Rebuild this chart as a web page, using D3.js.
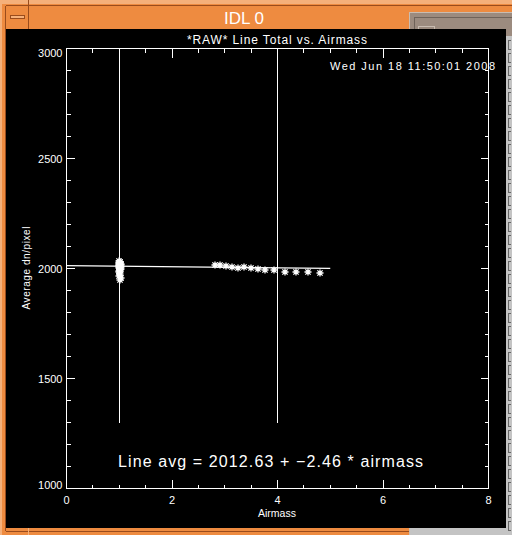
<!DOCTYPE html>
<html>
<head>
<meta charset="utf-8">
<script src="https://cdn.jsdelivr.net/npm/d3@7"></script>
<style>
    body { margin: 0; background: #000; }
    svg { display: block; }
    text { font-family: "Liberation Sans", Arial, sans-serif; fill: #fff; }
</style>
</head>
<body>
<svg id="viz" width="512" height="535"></svg>
<script>
// Data: cluster of exposures near airmass 1
const clusterAirmass = [0.99, 1.01, 1.02, 1.00, 0.99, 1.03, 1.02, 1.00, 0.99, 1.03, 1.01, 0.99, 1.04,
                        1.00, 1.02, 0.99, 1.01, 1.03, 1.02, 1.00, 0.99, 1.02, 1.01, 1.00, 1.03, 1.01];
const clusterCounts  = [2034, 2031, 2028, 2026, 2024, 2022, 2020, 2018, 2016, 2014, 2012, 2010, 2008,
                        2006, 2004, 2002, 2000, 1997, 1994, 1990, 1986, 1980, 1972, 1964, 1956, 1948];

// Data: airmass run
const rampAirmass = [2.81, 2.91, 3.03, 3.13, 3.25, 3.36, 3.50, 3.63, 3.77, 3.94, 4.14, 4.35, 4.57, 4.81];
const rampCounts  = [2014, 2014, 2011, 2006, 2003, 2009, 2003, 1999, 1994, 1991, 1982, 1982, 1982, 1979];

// Linear fit
const fitIntercept = 2012.63;
const fitSlope = -2.46;
const fitRange = [0, 5];

// Reference markers
const markerAirmass = [1, 4];
const markerSpan = [1300, 3000];

// Axis ticks
const xMajor = [0, 2, 4, 6, 8];
const yMajor = [1000, 1500, 2000, 2500, 3000];

const titleText = "*RAW* Line Total vs. Airmass";
const dateText = "Wed Jun 18 11:50:01 2008";
const fitText = `Line avg = ${fitIntercept.toFixed(2)} + \u2212${Math.abs(fitSlope).toFixed(2)} * airmass`;

const svg = d3.select("#viz");

// ---- window chrome ----
const orange = "#ee8b40", orangeLight = "#f5b07a", brown = "#9a4c1c";
svg.append("rect").attr("width", 512).attr("height", 535).attr("fill", orange);
svg.append("rect").attr("width", 512).attr("height", 4).attr("fill", orangeLight);
svg.append("rect").attr("x", 0).attr("y", 0).attr("width", 2).attr("height", 535).attr("fill", orangeLight);
const chrome = svg.append("g").attr("stroke", brown).attr("shape-rendering", "crispEdges").attr("fill", "none");
chrome.append("line").attr("x1", 5.5).attr("x2", 512).attr("y1", 5.5).attr("y2", 5.5);
chrome.append("line").attr("x1", 5.5).attr("x2", 5.5).attr("y1", 5.5).attr("y2", 531);
chrome.append("line").attr("x1", 28.5).attr("x2", 28.5).attr("y1", 0).attr("y2", 29);
chrome.append("line").attr("x1", 5.5).attr("x2", 410).attr("y1", 531.5).attr("y2", 531.5);
chrome.append("line").attr("x1", 28.5).attr("x2", 28.5).attr("y1", 528).attr("y2", 535).attr("stroke", orangeLight);
chrome.append("rect").attr("x", 10.5).attr("y", 15.5).attr("width", 14).attr("height", 3).attr("fill", orangeLight);

// gray window behind, right side
svg.append("rect").attr("x", 409).attr("y", 12).attr("width", 103).attr("height", 523).attr("fill", "#9c8b7f");
const gw = svg.append("g").attr("fill", "none").attr("shape-rendering", "crispEdges");
gw.append("path").attr("d", "M409.5,535V12.5H512").attr("stroke", "#c9bcb1");
gw.append("path").attr("d", "M414.5,535V17.5H512").attr("stroke", "#6f6259");
gw.append("rect").attr("x", 418.5).attr("y", 26.5).attr("width", 16).attr("height", 6).attr("stroke", "#c9bcb1");
svg.append("rect").attr("x", 506).attr("y", 36).attr("width", 6).attr("height", 499).attr("fill", "#c4c4c4");
svg.append("rect").attr("x", 410).attr("y", 528).attr("width", 102).attr("height", 7).attr("fill", "#c4c4c4");
svg.append("g").selectAll("path")
    .data(d3.range(40, 528, 13))
    .join("path")
    .attr("d", d => `M511,${d + 0.5}H508.5V${d + 9}H511`)
    .attr("fill", "none").attr("stroke", "#666").attr("shape-rendering", "crispEdges");

svg.append("text")
    .attr("x", 244).attr("y", 24)
    .attr("text-anchor", "middle")
    .style("font-size", "17px")
    .text("IDL 0");

// ---- plot canvas ----
svg.append("rect").attr("x", 6).attr("y", 29).attr("width", 500).attr("height", 499).attr("fill", "#000");

const x = d3.scaleLinear().domain([0, 8]).range([66.5, 488.5]);
const y = d3.scaleLinear().domain([1000, 3000]).range([488.5, 48.5]);

const xMinor = d3.range(0, 8.01, 0.5).filter(v => v % 2 !== 0);
const yMinor = d3.range(1000, 3001, 100).filter(v => v % 500 !== 0);

function styleAxis(g) {
    g.select(".domain").remove();
    g.selectAll("line").attr("stroke", "#fff").attr("shape-rendering", "crispEdges");
    g.selectAll("text").style("font-size", "11px").attr("fill", "#fff");
}

// bottom
svg.append("g").attr("transform", "translate(0,488.5)")
    .call(d3.axisBottom(x).tickValues(xMajor).tickSize(-9).tickPadding(8).offset(0).tickFormat(d3.format("d")))
    .call(styleAxis);
svg.append("g").attr("transform", "translate(0,488.5)")
    .call(d3.axisBottom(x).tickValues(xMinor).tickSize(-4).offset(0).tickFormat(""))
    .call(styleAxis);
// top
svg.append("g").attr("transform", "translate(0,48.5)")
    .call(d3.axisTop(x).tickValues(xMajor).tickSize(-9).offset(0).tickFormat(""))
    .call(styleAxis);
svg.append("g").attr("transform", "translate(0,48.5)")
    .call(d3.axisTop(x).tickValues(xMinor).tickSize(-4).offset(0).tickFormat(""))
    .call(styleAxis);
// left
svg.append("g").attr("transform", "translate(66.5,0)")
    .call(d3.axisLeft(y).tickValues(yMajor).tickSize(-8).offset(0).tickFormat(""))
    .call(styleAxis);
svg.append("g").attr("transform", "translate(66.5,0)")
    .call(d3.axisLeft(y).tickValues(yMinor).tickSize(-4).offset(0).tickFormat(""))
    .call(styleAxis);
// right
svg.append("g").attr("transform", "translate(488.5,0)")
    .call(d3.axisRight(y).tickValues(yMajor).tickSize(-8).offset(0).tickFormat(""))
    .call(styleAxis);
svg.append("g").attr("transform", "translate(488.5,0)")
    .call(d3.axisRight(y).tickValues(yMinor).tickSize(-4).offset(0).tickFormat(""))
    .call(styleAxis);

// y labels: IDL keeps end labels inside the plot box
svg.append("g").selectAll("text")
    .data(yMajor)
    .join("text")
    .attr("x", 62.5)
    .attr("y", (d, i) => i === 0 ? y(d) : i === yMajor.length - 1 ? y(d) + 8 : y(d) + 4)
    .attr("text-anchor", "end")
    .style("font-size", "11px")
    .text(d => d);

// frame
svg.append("rect")
    .attr("x", x(0)).attr("y", y(3000))
    .attr("width", x(8) - x(0)).attr("height", y(1000) - y(3000))
    .attr("fill", "none").attr("stroke", "#fff").attr("shape-rendering", "crispEdges");

// reference markers
svg.append("g").selectAll("line")
    .data(markerAirmass)
    .join("line")
    .attr("x1", d => Math.floor(x(d)) + 0.5).attr("x2", d => Math.floor(x(d)) + 0.5)
    .attr("y1", y(markerSpan[0])).attr("y2", y(markerSpan[1]))
    .attr("stroke", "#fff").attr("shape-rendering", "crispEdges");

// fit line
const line = d3.line().x(d => x(d)).y(d => y(fitIntercept + fitSlope * d));
svg.append("path")
    .attr("d", line(fitRange))
    .attr("fill", "none").attr("stroke", "#fff").attr("stroke-width", 1.2);

// asterisk symbol (IDL psym=2)
const idlAsterisk = {
    draw(ctx, size) {
        const r = Math.sqrt(size) / 2;
        const k = r * 0.75;
        ctx.moveTo(-r, 0); ctx.lineTo(r, 0);
        ctx.moveTo(0, -r); ctx.lineTo(0, r);
        ctx.moveTo(-k, -k); ctx.lineTo(k, k);
        ctx.moveTo(-k, k); ctx.lineTo(k, -k);
    }
};
const sym = d3.symbol().type(idlAsterisk).size(49);

const points = clusterAirmass.map((a, i) => ({ a, v: clusterCounts[i] }))
    .concat(rampAirmass.map((a, i) => ({ a, v: rampCounts[i] })));

svg.append("g").selectAll("path")
    .data(points)
    .join("path")
    .attr("transform", d => `translate(${Math.round(x(d.a))},${Math.round(y(d.v))})`)
    .attr("d", sym)
    .attr("fill", "none").attr("stroke", "#fff").attr("stroke-width", 1.3);

// texts
svg.append("text")
    .attr("x", 277).attr("y", 44)
    .attr("text-anchor", "middle")
    .attr("textLength", 180).attr("lengthAdjust", "spacing")
    .style("font-size", "12px")
    .text(titleText);

svg.append("text")
    .attr("x", 330).attr("y", 70)
    .attr("textLength", 165).attr("lengthAdjust", "spacing")
    .style("font-size", "11px")
    .text(dateText);

svg.append("text")
    .attr("x", 118).attr("y", 467)
    .attr("textLength", 305).attr("lengthAdjust", "spacing")
    .style("font-size", "16px")
    .text(fitText);

svg.append("text")
    .attr("x", 277).attr("y", 517)
    .attr("text-anchor", "middle")
    .style("font-size", "10.5px")
    .text("Airmass");

svg.append("text")
    .attr("transform", "translate(30,268) rotate(-90)")
    .attr("text-anchor", "middle")
    .attr("textLength", 83).attr("lengthAdjust", "spacing")
    .style("font-size", "10px")
    .text("Average dn/pixel");
</script>
</body>
</html>
